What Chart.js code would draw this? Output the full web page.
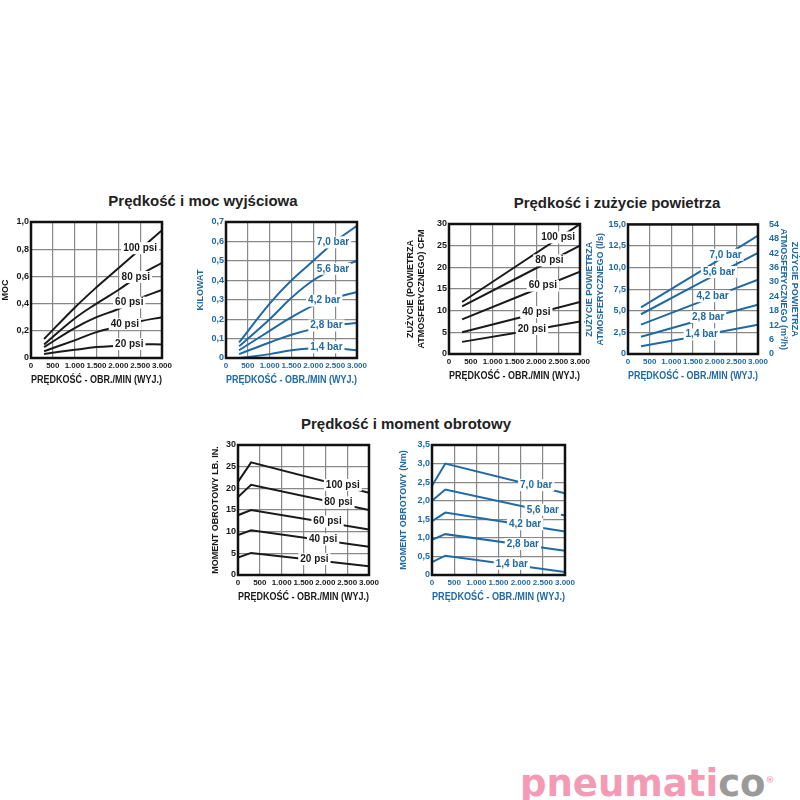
<!DOCTYPE html>
<html><head><meta charset="utf-8">
<script src="https://cdn.jsdelivr.net/npm/chart.js@4"></script>
<style>
body{margin:0;width:800px;height:800px;background:#fff;position:relative;overflow:hidden}
.c{position:absolute}
.t{position:absolute;font:bold 15px "Liberation Sans","DejaVu Sans",sans-serif;color:#222;transform:translateX(-50%);white-space:nowrap}
#logo{position:absolute;left:520px;top:762px;font:bold 37px "DejaVu Sans",sans-serif;color:#f49ab4;letter-spacing:0px}
#logo span{color:#9a9a9a}
</style></head><body>
<div class="t" style="left:203px;top:192px">Prędkość i moc wyjściowa</div>
<div class="t" style="left:617px;top:194px">Prędkość i zużycie powietrza</div>
<div class="t" style="left:406px;top:415px">Prędkość i moment obrotowy</div>
<div id="logo">pneumati<span>co</span><sup style="font-size:9px">®</sup></div>
<div class="c" style="left:0;top:214px;width:175px;height:176px"><canvas id="c1"></canvas></div>
<div class="c" style="left:195px;top:214px;width:175px;height:176px"><canvas id="c2"></canvas></div>
<div class="c" style="left:405px;top:216px;width:188px;height:170px"><canvas id="c3"></canvas></div>
<div class="c" style="left:584px;top:216px;width:216px;height:170px"><canvas id="c4"></canvas></div>
<div class="c" style="left:210px;top:437px;width:172px;height:170px"><canvas id="c5"></canvas></div>
<div class="c" style="left:398px;top:437px;width:180px;height:170px"><canvas id="c6"></canvas></div>
<script>
const BLACK = "#1a1a1a", BLUE = "#1f6aa5";
const FONT = "'Liberation Sans',Arial,sans-serif";

// --- data ---
const psiLabels = ["100 psi", "80 psi", "60 psi", "40 psi", "20 psi"];
const barLabels = ["7,0 bar", "5,6 bar", "4,2 bar", "2,8 bar", "1,4 bar"];
const rpmCurve = [300, 1000, 1500, 2000, 2500, 3000];
const rpmLine = [300, 1650, 3000];
const rpmTorque = [0, 300, 3000];

const power = [
  [0.14, 0.37, 0.52, 0.66, 0.80, 0.94],
  [0.10, 0.29, 0.40, 0.50, 0.61, 0.70],
  [0.08, 0.22, 0.30, 0.36, 0.44, 0.50],
  [0.05, 0.13, 0.19, 0.23, 0.27, 0.30],
  [0.03, 0.06, 0.08, 0.09, 0.10, 0.10]
];
const powerLx = [2500, 2400, 2250, 2150, 2250];
const kw = [
  [0.08, 0.28, 0.40, 0.50, 0.60, 0.68],
  [0.06, 0.20, 0.31, 0.40, 0.46, 0.50],
  [0.04, 0.14, 0.21, 0.27, 0.31, 0.34],
  [0.02, 0.08, 0.12, 0.15, 0.17, 0.18],
  [0.00, 0.02, 0.04, 0.05, 0.05, 0.04]
];
const kwLx = [2450, 2450, 2250, 2300, 2300];
const cfm = [
  [12, 21, 30],
  [11, 18, 25],
  [8, 13.5, 19],
  [5, 8.5, 12],
  [2.8, 5.1, 7.5]
];
const cfmLx = [2500, 2300, 2150, 2000, 1900];
const lps = [
  [5.4, 9.5, 13.7],
  [4.6, 8.2, 11.7],
  [3.4, 6.0, 8.6],
  [2.0, 3.9, 5.7],
  [0.9, 2.1, 3.4]
];
const lpsLx = [2250, 2100, 1950, 1850, 1700];
const torqueLb = [
  [21.5, 26, 19],
  [18, 20.8, 15],
  [13.8, 15, 10.5],
  [9.2, 10.3, 6.5],
  [4, 5.1, 2]
];
const torqueLbLx = [2400, 2300, 2050, 1950, 1750];
const torqueNm = [
  [2.4, 3.0, 2.2],
  [2.0, 2.3, 1.6],
  [1.45, 1.68, 1.17],
  [0.95, 1.1, 0.65],
  [0.35, 0.52, 0.08]
];
const torqueNmLx = [2350, 2500, 2100, 2050, 1800];
const xTicks = [0, 500, 1000, 1500, 2000, 2500, 3000];

// line labels with white box, placed on the curve via scales
const labelPlugin = {
  id: "lineLabels",
  afterDatasetsDraw(chart) {
    const {ctx, scales: {x, y}} = chart;
    ctx.save();
    ctx.font = "bold 10px " + FONT;
    ctx.textAlign = "center"; ctx.textBaseline = "middle";
    chart.data.datasets.forEach(ds => {
      const d = ds.data; let yv = d[d.length - 1].y;
      for (let i = 1; i < d.length; i++) {
        if (ds.lx <= d[i].x) { const f = (ds.lx - d[i-1].x) / (d[i].x - d[i-1].x); yv = d[i-1].y + f * (d[i].y - d[i-1].y); break; }
      }
      const px = x.getPixelForValue(ds.lx), py = y.getPixelForValue(yv) - 1;
      const w = ctx.measureText(ds.label).width + 4;
      ctx.fillStyle = "#fff"; ctx.fillRect(px - w / 2, py - 6, w, 12);
      ctx.fillStyle = ds.borderColor; ctx.fillText(ds.label, px, py);
    });
    ctx.restore();
  }
};
const frame = {
  id: "frame",
  afterDatasetsDraw(chart) {
    const a = chart.chartArea, ctx = chart.ctx;
    ctx.save(); ctx.strokeStyle = "#111"; ctx.lineWidth = 2.5;
    ctx.strokeRect(a.left, a.top, a.right - a.left, a.bottom - a.top); ctx.restore();
  }
};

function fmtX(v) { return v >= 1000 ? (v / 1000).toFixed(3) : String(v); }
function comma(dec) { return v => (dec && v !== 0) ? v.toFixed(dec).replace(".", ",") : String(v); }
const tickFont = {family: FONT, size: 9, weight: "bold"};
const xTickFont = {family: FONT, size: 8, weight: "bold"};

function make(id, xs, series, labels, lx, color, yMin, yMax, yStep, yDec, yTitle, leftW, tension, right) {
  const datasets = series.map((s, i) => ({
    label: labels[i], lx: lx[i],
    data: s.map((v, j) => ({x: xs[j], y: v})),
    borderColor: color, borderWidth: 2, pointRadius: 0, tension: tension, yAxisID: "y"
  }));
  const scales = {
    x: {type: "linear", min: 0, max: 3000, afterBuildTicks: s => { s.ticks = xTicks.map(v => ({value: v})); },
      grid: {color: "#888", lineWidth: 1.2, drawTicks: false},
      border: {display: false},
      ticks: {color: color, font: xTickFont, padding: 3, maxRotation: 0, autoSkip: false, callback: fmtX},
      title: {display: true, text: "PRĘDKOŚĆ - OBR./MIN (WYJ.)", color: color, font: {family: FONT, size: 10, weight: "bold"}, padding: {top: 1}},
      afterFit: s => { s.height = 32; }},
    y: {min: yMin, max: yMax, ticks: {stepSize: yStep, color: color, font: tickFont, padding: 2, callback: comma(yDec)},
      grid: {color: "#888", lineWidth: 1.2, drawTicks: false}, border: {display: false},
      title: {display: true, text: yTitle, color: color, font: {family: FONT, size: 9, weight: "bold"}, padding: 0},
      afterFit: s => { s.width = leftW; }}
  };
  if (right) {
    scales.y2 = {position: "right", min: 0, max: right.max, grid: {display: false}, border: {display: false},
      ticks: {stepSize: right.step, color: color, font: tickFont, padding: 3},
      title: {display: true, text: right.title, color: color, font: {family: FONT, size: 9, weight: "bold"}, padding: 0},
      afterFit: s => { s.width = right.w; }};
  }
  new Chart(document.getElementById(id), {
    type: "line", data: {datasets},
    options: {responsive: true, maintainAspectRatio: false, animation: false,
      layout: {padding: {top: 8, right: right ? 0 : 8}},
      plugins: {legend: {display: false}, tooltip: {enabled: false}}, scales},
    plugins: [labelPlugin, frame]
  });
}

make("c1", rpmCurve, power, psiLabels, powerLx, BLACK, 0, 1, 0.2, 1, "MOC", 31, 0.4);
make("c2", rpmCurve, kw, barLabels, kwLx, BLUE, 0, 0.7, 0.1, 1, "KILOWAT", 31, 0.4);
make("c3", rpmLine, cfm, psiLabels, cfmLx, BLACK, 0, 30, 5, 0, ["ZUŻYCIE (POWIETRZA", "ATMOSFERYCZNEGO) CFM"], 44, 0);
make("c4", rpmLine, lps, barLabels, lpsLx, BLUE, 0, 15, 2.5, 1, ["ZUŻYCIE POWIETRZA", "ATMOSFERYCZNEGO (l/s)"], 44, 0,
  {max: 54, step: 6, title: ["ZUŻYCIE POWIETRZA", "ATMOSFERYCZNEGO (m³/h)"], w: 42});
make("c5", rpmTorque, torqueLb, psiLabels, torqueLbLx, BLACK, 0, 30, 5, 0, "MOMENT OBROTOWY LB. IN.", 28, 0);
make("c6", rpmTorque, torqueNm, barLabels, torqueNmLx, BLUE, 0, 3.5, 0.5, 1, "MOMENT OBROTOWY (Nm)", 34, 0);
</script>
</body></html>
